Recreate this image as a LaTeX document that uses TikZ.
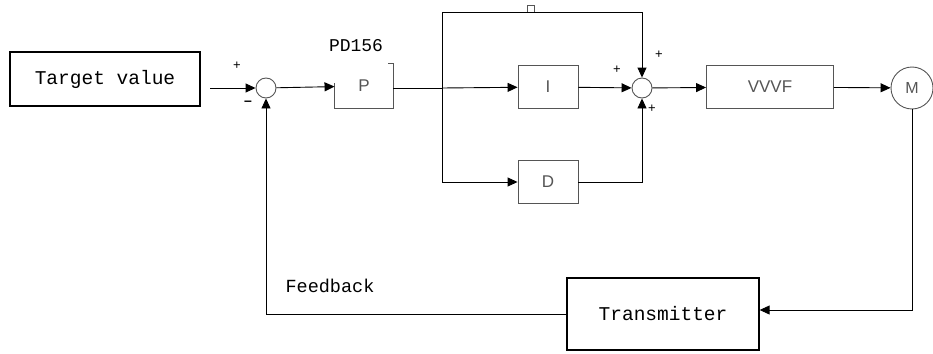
\documentclass[tikz,border=0pt]{standalone}
\usepackage{fontspec}
\setmainfont{Liberation Sans}
\newfontfamily\boxfont{Liberation Mono}
\usetikzlibrary{arrows.meta,positioning}
\definecolor{lgray}{RGB}{85,85,85}

\begin{document}
\begin{tikzpicture}[
  x=1pt, y=-1pt,
  line width=0.9pt,
  mbox/.style={draw,line width=1.3pt,font=\boxfont\fontsize{19.5}{21}\selectfont,inner sep=0pt},
  gbox/.style={draw=lgray,text=lgray,minimum width=60pt,minimum height=43pt,font=\fontsize{17}{19}\selectfont,inner sep=0pt},
  sum/.style={circle,draw=lgray,minimum size=20pt,inner sep=0pt},
  sgn/.style={font=\fontsize{13}{13}\selectfont,inner sep=0pt},
  flow/.style={-{Triangle[length=10pt,width=9pt]}}
]
\useasboundingbox (0,0) rectangle (933,353);
% forward path
\node[mbox,minimum width=190pt,minimum height=54pt] (tv) at (105,79) {Target value};
\coordinate (tvo) at (210,88);
\node[sum] (s1) at (266,88) {};
\node[gbox,draw=none,minimum width=58pt,minimum height=44pt] (p) at (364,86) {P};
\node[font=\boxfont\fontsize{18}{20}\selectfont] (pd) at (356,46) {PD156};
\coordinate (br) at (442,88);
\coordinate (tl) at (442,12);
\node[gbox] (i) at (548,87) {I};
\node[gbox] (d) at (548,182) {D};
\node[sum] (s2) at (642,88) {};
\node[gbox,minimum width=127pt] (vvvf) at (770,87) {VVVF};
\node[circle,draw=lgray,text=lgray,minimum size=42pt,inner sep=0pt,font=\fontsize{16}{18}\selectfont] (m) at (912,88) {M};
% feedback path
\node[mbox,minimum width=192pt,minimum height=72pt] (tx) at (663,314) {Transmitter};
\node[font=\boxfont\fontsize{18.5}{20}\selectfont] (fb) at (330,286) {Feedback};
\node[draw=lgray,minimum width=7pt,minimum height=7pt,inner sep=0pt] (mk) at (531,8.5) {};
% signs
\node[sgn] (pl1) at (237,66) {+};
\node[sgn,font=\bfseries\fontsize{14}{14}\selectfont] (mi1) at (248,103) {--};
\node[sgn] (pl2) at (617,70) {+};
\node[sgn] (pl3) at (659,55) {+};
\node[sgn] (pl4) at (652,109) {+};

\draw[lgray] ([yshift=3pt]p.west) -- (p.south west) -- (p.south east) -- (p.north east) -- ++(-5,0);
\draw[flow] (tvo) -- (s1);
\draw[flow] (s1) -- (p);
\draw (p.east |- br) -- (br);
\draw[flow] (br) -- (i);
\draw[flow] (br) -- (tl) -| (s2.north);
\draw[flow] (br) |- (d);
\draw[flow] (i) -- (s2);
\draw[flow] (d) -| (s2.south);
\draw[flow] (s2) -- (vvvf);
\draw[flow] (vvvf) -- (m);
\draw[flow] (m.south) |- ([yshift=4pt]tx.east);
\draw[flow] (tx.west) -| (s1.south);
\end{tikzpicture}
\end{document}
